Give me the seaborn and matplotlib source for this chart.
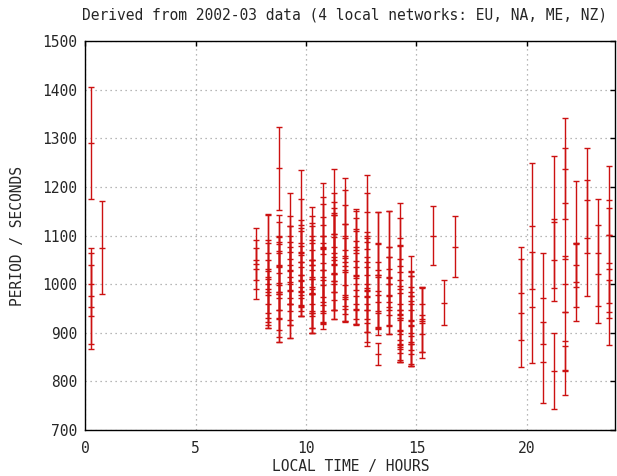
import matplotlib
matplotlib.use("Agg")
import matplotlib.pyplot as plt
import seaborn as sns
import pandas as pd

# Oscillation period estimates binned by local time (hour), one row per estimate:
# centre value with lower and upper error limits, all in seconds.
hours = (
    [0.25] * 4 + [0.75]
    + [7.75] * 3
    + [8.25] * 7
    + [8.75] * 10
    + [9.25] * 9
    + [9.75] * 10
    + [10.25] * 11
    + [10.75] * 9
    + [11.25] * 10
    + [11.75] * 8
    + [12.25] * 8
    + [12.75] * 9
    + [13.25] * 7
    + [13.75] * 7
    + [14.25] * 11
    + [14.75] * 9
    + [15.25] * 4
    + [15.75, 16.25, 16.75]
    + [19.75] * 2
    + [20.25] * 2
    + [20.75] * 2
    + [21.25] * 3
    + [21.75] * 5
    + [22.25] * 3
    + [22.75] * 2
    + [23.25] * 2
    + [23.75] * 4
)

period = [
    1290, 1000, 975, 953, 1075,
    1042, 1032, 1049,
    1063, 1027, 1000, 977, 960, 1015, 990,
    1238, 1063, 984, 1039, 1022, 998, 971, 947, 930, 1083,
    1066, 1015, 988, 1052, 1029, 1001, 971, 960, 1039,
    1085, 1121, 1059, 1046, 1035, 1018, 1008, 995, 977, 971,
    1029, 1090, 1070, 1050, 1040, 1010, 995, 980, 960, 945, 940,
    1074, 1044, 1100, 1121, 1029, 1015, 998, 974, 964,
    1143, 1104, 1104, 1076, 1063, 1042, 1022, 1001, 984, 967,
    1070, 1124, 1100, 1046, 1025, 998, 977, 949,
    1035, 1110, 1076, 1063, 1018, 988, 959, 947,
    1148, 1087, 1035, 1018, 1001, 986, 974, 947, 920,
    1083, 1030, 1015, 977, 964, 940, 856,
    1076, 1032, 1015, 1001, 977, 964, 937,
    1095, 1037, 1008, 991, 960, 947, 926, 906, 885, 874, 858,
    1017, 976, 959, 947, 924, 913, 899, 876, 856,
    960, 928, 920, 898,
    1100, 962, 1077,
    981, 941,
    1120, 952,
    971, 839,
    1128, 1050, 822,
    1237, 1166, 1000, 883, 822,
    1083, 1004, 1040,
    1172, 1095,
    1065, 1021,
    1172, 1043, 942, 1032,
]

period_err = [
    115, 65, 99, 87, 96,
    73, 42, 41,
    80, 118, 85, 55, 50, 75, 60,
    85, 80, 103, 60, 75, 70, 65, 55, 49, 45,
    122, 126, 99, 67, 70, 75, 55, 45, 80,
    150, 54, 73, 63, 80, 60, 55, 50, 42, 36,
    129, 50, 55, 70, 60, 75, 55, 70, 50, 45, 41,
    134, 136, 38, 44, 71, 70, 75, 55, 44,
    94, 84, 65, 70, 80, 114, 75, 54, 37, 39,
    148, 70, 62, 77, 70, 60, 53, 25,
    120, 40, 60, 50, 70, 60, 41, 29,
    76, 100, 60, 90, 55, 113, 72, 45, 40,
    65, 118, 70, 69, 55, 45, 23,
    75, 119, 62, 55, 79, 48, 39,
    71, 100, 70, 60, 120, 50, 55, 40, 45, 30, 18,
    41, 50, 65, 70, 60, 81, 67, 40, 24,
    35, 67, 72, 38,
    61, 47, 63,
    95, 111,
    130, 115,
    94, 84,
    136, 84, 78,
    104, 114, 57, 60, 50,
    130, 80, 45,
    107, 120,
    110, 100,
    71, 113, 67, 70,
]

period_lo = [p - e for p, e in zip(period, period_err)]
period_hi = [p + e for p, e in zip(period, period_err)]

x_ticks = [0, 5, 10, 15, 20]
y_ticks = [700, 800, 900, 1000, 1100, 1200, 1300, 1400, 1500]

title = "Derived from 2002-03 data (4 local networks: EU, NA, ME, NZ)"
x_label = "LOCAL TIME / HOURS"
y_label = "PERIOD / SECONDS"

red = "#cc1111"

sns.set_style("white")
plt.rcParams["font.family"] = ["DejaVu Sans Mono", "DejaVu Sans"]
plt.rcParams["font.size"] = 10.5

fig = plt.figure(figsize=(6.17, 4.76), dpi=100)
ax = fig.add_axes([85.5 / 617, 1 - 430 / 476, 529.5 / 617, 389 / 476])

df = pd.DataFrame({"hour": hours, "period": period,
                   "lo": period_lo, "hi": period_hi})

# vertical error bars
ax.vlines(df["hour"], df["lo"], df["hi"], color=red, linewidth=1.0, zorder=3)

# caps at both ends plus a tick at the estimate itself
marks = pd.concat([
    df[["hour", "period"]].rename(columns={"period": "y"}),
    df[["hour", "lo"]].rename(columns={"lo": "y"}),
    df[["hour", "hi"]].rename(columns={"hi": "y"}),
], ignore_index=True)
sns.scatterplot(data=marks, x="hour", y="y", marker="_", s=16,
                color=red, linewidth=1.0, ax=ax, zorder=4, legend=False)

ax.set_xlim(0, 24)
ax.set_ylim(700, 1500)
ax.set_xticks(x_ticks)
ax.set_yticks(y_ticks)
ax.grid(True, color="#a0a0a0", linestyle=(0, (1, 3)), linewidth=0.9)
ax.set_axisbelow(True)

for s in ax.spines.values():
    s.set_color("black")
    s.set_linewidth(1.0)

ax.tick_params(direction="in", length=3.5, width=1.0, color="black",
               top=True, right=True, labelsize=10.5)
ax.tick_params(axis="x", pad=8)
ax.tick_params(axis="y", pad=6)

ax.set_xlabel(x_label, fontsize=10.5, labelpad=2)
ax.set_ylabel(y_label, fontsize=10.5, labelpad=12)
fig.text(345 / 617, 1 - 15 / 476, title, ha="center", va="center", fontsize=10.5)

fig.savefig("out.png", dpi=100)
